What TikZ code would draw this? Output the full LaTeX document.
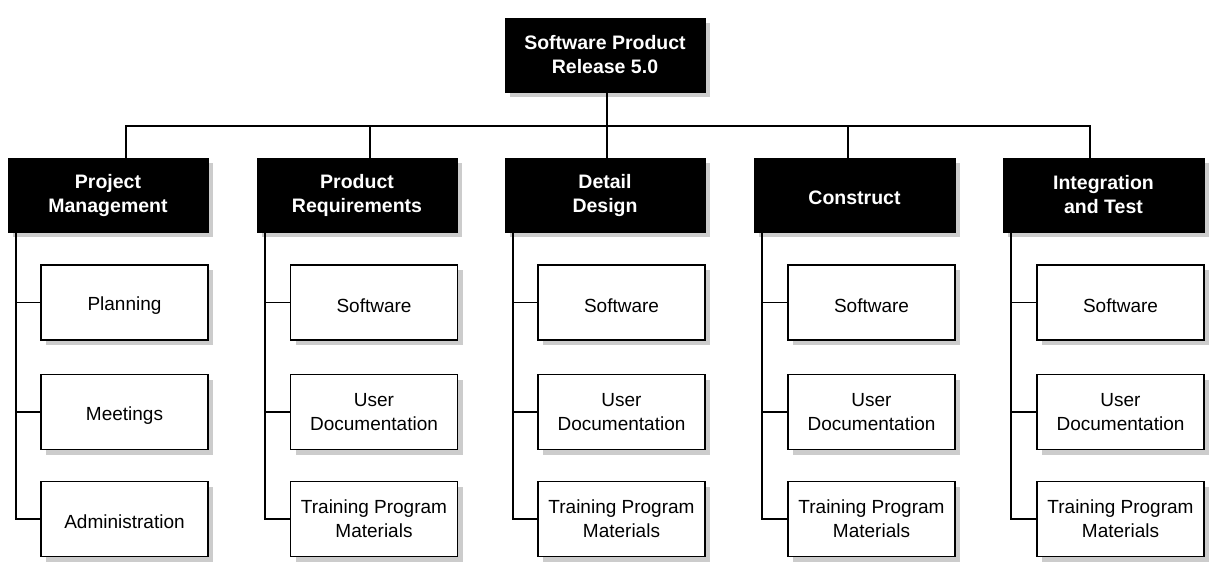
\documentclass[tikz,border=0pt]{standalone}
\usepackage{fontspec}
\setmainfont{Liberation Sans}
\usetikzlibrary{shadows}
\tikzset{
  shd/.style={drop shadow={shadow xshift=5pt, shadow yshift=-5pt, fill=black!20, opacity=1}},
  headbox/.style={shd, draw=black, fill=black, text=white, line width=1pt,
    minimum width=200pt, minimum height=74pt, align=center,
    font=\fontsize{19.5}{24}\selectfont\bfseries, inner sep=0pt,
    execute at begin node={\rule{0pt}{20pt}}},
  subbox/.style={shd, draw=black, fill=white, line width=1.3pt,
    minimum width=167pt, minimum height=75pt, align=center,
    font=\fontsize{19}{24}\selectfont, inner sep=0pt,
    execute at begin node={\rule{0pt}{20pt}}},
  conn/.style={line width=1.4pt, line cap=rect}
}
\begin{document}
\begin{tikzpicture}[x=1pt,y=-1pt]
\useasboundingbox (0,0) rectangle (1213,571);
\node[headbox] (top) at (605,55) {Software Product\\Release 5.0};

\node[headbox] (pm) at (108,195) {Project\\Management};
\node[headbox] (pr) at (357,195) {Product\\Requirements};
\node[headbox] (dd) at (605,195) {Detail\\Design};
\node[headbox, minimum width=201pt] (co) at (854.5,195) {Construct};
\node[headbox, minimum width=201pt] (it) at (1103.5,195) {Integration\\and Test};

\node[subbox] (pm1) at (124.5,302.5) {Planning};
\node[subbox] (pm2) at (124.5,412) {Meetings};
\node[subbox] (pm3) at (124.5,519) {Administration};

\node[subbox] (pr1) at (374,302.5) {Software};
\node[subbox] (pr2) at (374,412) {User\\Documentation};
\node[subbox] (pr3) at (374,519) {Training Program\\Materials};

\node[subbox] (dd1) at (621.5,302.5) {Software};
\node[subbox] (dd2) at (621.5,412) {User\\Documentation};
\node[subbox] (dd3) at (621.5,519) {Training Program\\Materials};

\node[subbox] (co1) at (871.5,302.5) {Software};
\node[subbox] (co2) at (871.5,412) {User\\Documentation};
\node[subbox] (co3) at (871.5,519) {Training Program\\Materials};

\node[subbox] (it1) at (1120.5,302.5) {Software};
\node[subbox] (it2) at (1120.5,412) {User\\Documentation};
\node[subbox] (it3) at (1120.5,519) {Training Program\\Materials};

% bus
\coordinate (bT) at (607,126);
\coordinate (b1) at (126,126);
\coordinate (b2) at (370,126);
\coordinate (b3) at (607,126);
\coordinate (b4) at (848,126);
\coordinate (b5) at (1090,126);
\draw[conn] (top.south -| bT) -- (bT);
\draw[conn] (b1) -- (b5);
\draw[conn] (b1) -- (pm.north -| b1);
\draw[conn] (b2) -- (pr.north -| b2);
\draw[conn] (b3) -- (dd.north -| b3);
\draw[conn] (b4) -- (co.north -| b4);
\draw[conn] (b5) -- (it.north -| b5);

% spines
\foreach \p in {pm,pr,dd,co,it}{
  \draw[conn] ([xshift=8.5pt]\p.south west) |- (\p3.west);
  \draw[conn] ([xshift=8.5pt]\p.south west |- \p1.west) -- (\p1.west);
  \draw[conn] ([xshift=8.5pt]\p.south west |- \p2.west) -- (\p2.west);
}
\end{tikzpicture}
\end{document}
